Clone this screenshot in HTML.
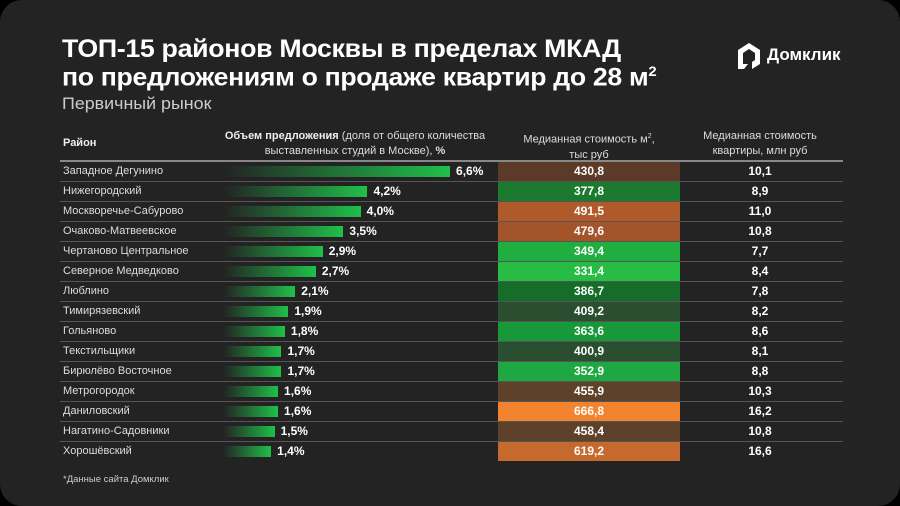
<!DOCTYPE html>
<html><head><meta charset="utf-8"><style>
*{margin:0;padding:0;box-sizing:border-box}
body{width:900px;height:506px;background:#000;font-family:"Liberation Sans","DejaVu Sans",sans-serif;overflow:hidden}
#c{position:absolute;left:0;top:0;width:900px;height:506px;background:#232323;border-radius:22px;overflow:hidden}
.a{position:absolute;white-space:nowrap}
.t{left:62px;color:#fff;font-weight:bold;font-size:25px;letter-spacing:-0.3px;transform-origin:0 0}
.h{color:#ddd;font-size:11px;text-align:center;line-height:15px}
.rl{position:absolute;left:60px;width:783px;height:1px;background:#555}
.n{left:63px;color:#ddd;font-size:11px;line-height:19px}
.bar{position:absolute;height:11px;left:223px}
.p{color:#fff;font-weight:bold;font-size:12px;line-height:19px}
.cell{position:absolute;left:498px;width:182px;height:19px;color:#fff;font-weight:bold;font-size:12px;text-align:center;line-height:19px}
.v{left:700px;width:120px;text-align:center;color:#fff;font-weight:bold;font-size:12px;line-height:19px}
</style></head><body><div id="c">
<div class="a t" style="top:35px;transform:scaleX(1.07)">ТОП-15 районов Москвы в пределах МКАД</div>
<div class="a t" style="top:63px;transform:scaleX(1.065)">по предложениям о продаже квартир до 28 м<sup style="font-size:14px">2</sup></div>
<div class="a" style="left:62px;top:94px;color:#ccc;font-size:17px;transform:scaleX(1.05);transform-origin:0 0">Первичный рынок</div>
<svg class="a" style="left:736px;top:42px" width="26" height="28" viewBox="0 0 26 28"><path d="M13 1 L24 8 L24 22 L16 27 L16 20 L19 18 L19 11 L13 7 L7 11 L7 22 L12 22 L8 27 L2 27 L2 8 Z" fill="#fff"/></svg>
<div class="a" style="left:767px;top:45px;color:#fff;font-weight:bold;font-size:17px">Домклик</div>
<div class="a h" style="left:63px;top:136px;font-weight:bold;color:#eee">Район</div>
<div class="a h" style="left:215px;top:129px;width:280px"><b style="color:#eee">Объем предложения</b> (доля от общего количества<br>выставленных студий в Москве), <b>%</b></div>
<div class="a h" style="left:498px;top:129px;width:182px">Медианная стоимость м<sup style="font-size:7px">2</sup>,<br>тыс руб</div>
<div class="a h" style="left:690px;top:129px;width:140px">Медианная стоимость<br>квартиры, млн руб</div>
<div class="rl" style="top:160px;height:2px;background:#888"></div>
<div id="rows"></div>
<div class="a" style="left:63px;top:474px;color:#ccc;font-size:9.5px">*Данные сайта Домклик</div>
</div>
<script>
var d=[["Западное Дегунино",6.6,"430,8","10,1","#5b3b27"],["Нижегородский",4.2,"377,8","8,9","#1c7a30"],["Москворечье-Сабурово",4.0,"491,5","11,0","#b0592a"],["Очаково-Матвеевское",3.5,"479,6","10,8","#a4542a"],["Чертаново Центральное",2.9,"349,4","7,7","#20ae40"],["Северное Медведково",2.7,"331,4","8,4","#27bd44"],["Люблино",2.1,"386,7","7,8","#166d2a"],["Тимирязевский",1.9,"409,2","8,2","#2b4d30"],["Гольяново",1.8,"363,6","8,6","#17993a"],["Текстильщики",1.7,"400,9","8,1","#2b4d30"],["Бирюлёво Восточное",1.7,"352,9","8,8","#1fa742"],["Метрогородок",1.6,"455,9","10,3","#5d4128"],["Даниловский",1.6,"666,8","16,2","#f2832f"],["Нагатино-Садовники",1.5,"458,4","10,8","#5d4128"],["Хорошёвский",1.4,"619,2","16,6","#c5692e"]];
var h="";
d.forEach(function(r,i){var y=162+20*i;var w=r[1]*34.4;
h+='<div class="a n" style="top:'+y+'px">'+r[0]+'</div>';
h+='<div class="bar" style="top:'+(y+4)+'px;width:'+w+'px;background:linear-gradient(90deg,rgba(30,190,70,0),#1fc04a)"></div>';
h+='<div class="a p" style="left:'+(223+w+6)+'px;top:'+y+'px">'+r[1].toFixed(1).replace(".",",")+'%</div>';
h+='<div class="cell" style="top:'+y+'px;background:'+r[4]+'">'+r[2]+'</div>';
h+='<div class="a v" style="top:'+y+'px">'+r[3]+'</div>';
if(i<14)h+='<div class="rl" style="top:'+(y+19)+'px"></div>';});
document.getElementById("rows").innerHTML=h;
</script>
</body></html>
